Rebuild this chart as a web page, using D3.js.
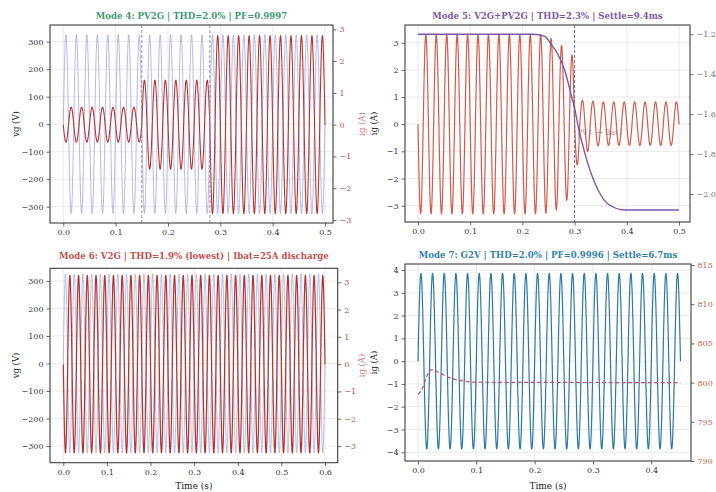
<!DOCTYPE html>
<html>
<head>
<meta charset="utf-8">
<script src="https://cdn.jsdelivr.net/npm/d3@7"></script>
<style>
  body { margin: 0; background: #fff; }
  svg { display: block; font-family: "DejaVu Serif", serif; }
</style>
</head>
<body>
<svg id="chart" width="716" height="492"></svg>
<script>
// grid waveform
var gridFreq = 50;
var vgPeak = 325;

// Mode 4 (PV2G): current steps up at the two dashed markers
var mode4Edges = [0, 0.15, 0.28, 0.5];
var mode4Amps = [0.55, 1.4, 2.8];
var mode4Marks = [0.15, 0.28];

// Mode 5 (V2G+PV2G): extremes of ig for each 20 ms cycle (trough first, then peak)
var mode5Troughs = [-3.3, -3.3, -3.3, -3.3, -3.3, -3.3, -3.3, -3.3, -3.3, -3.3, -3.3, -3.3,
                    -3.28, -3.15, -2.8, -1.5, -1.0, -0.8, -0.78, -0.78, -0.78, -0.78, -0.78, -0.78, -0.78];
var mode5Peaks = [3.3, 3.3, 3.3, 3.3, 3.3, 3.3, 3.3, 3.3, 3.3, 3.3, 3.3, 3.3,
                  3.15, 2.9, 2.55, 0.88, 0.85, 0.82, 0.82, 0.82, 0.82, 0.82, 0.82, 0.82, 0.82];
var mode5Mark = 0.3;
// second-axis trace of Mode 5
var mode5TraceT = [0, 0.22, 0.243, 0.255, 0.268, 0.281, 0.294, 0.3, 0.306, 0.319, 0.332, 0.345, 0.364, 0.396, 0.5];
var mode5TraceV = [-1.2, -1.2, -1.21, -1.25, -1.3, -1.38, -1.51, -1.57, -1.65, -1.79, -1.9, -1.98, -2.05, -2.08, -2.08];

// Mode 6 (V2G)
var mode6End = 0.6;
var mode6Amp = 3.25;

// Mode 7 (G2V)
var mode7End = 0.45;
var mode7Amp = 3.85;
var mode7VdcT = [0, 0.009, 0.015, 0.0235, 0.035, 0.055, 0.083, 0.1, 0.45];
var mode7VdcV = [798.5, 799.5, 800.8, 801.65, 801.3, 800.6, 800.15, 800.05, 800.0];

// tick values
var timeTicks5 = [0, 0.1, 0.2, 0.3, 0.4, 0.5];
var timeTicks6 = [0, 0.1, 0.2, 0.3, 0.4, 0.5, 0.6];
var timeTicks7 = [0, 0.1, 0.2, 0.3, 0.4];
var vgTicks = [-300, -200, -100, 0, 100, 200, 300];
var igTicks3 = [-3, -2, -1, 0, 1, 2, 3];
var igTicks4 = [-4, -3, -2, -1, 0, 1, 2, 3, 4];
var traceTicks = [-2.0, -1.8, -1.6, -1.4, -1.2];
var vdcTicks = [790, 795, 800, 805, 810, 815];

var svg = d3.select("#chart");
var step = 0.0001;

function phase(t) {
    return Math.sin(2 * Math.PI * gridFreq * t);
}

function sampled(end, valueAt) {
    return d3.range(0, end + step / 2, step).map(function (t) {
        return [t, valueAt(t)];
    });
}

var vg5 = sampled(0.5, function (t) { return vgPeak * phase(t); });
var vg6 = sampled(mode6End, function (t) { return vgPeak * phase(t); });

var ig4 = sampled(0.5, function (t) {
    var seg = d3.bisectRight(mode4Edges, t) - 1;
    seg = Math.max(0, Math.min(mode4Amps.length - 1, seg));
    return -mode4Amps[seg] * phase(t);
});

var ig5 = sampled(0.5, function (t) {
    var c = t * gridFreq;
    var k = Math.min(mode5Peaks.length - 1, Math.floor(c));
    var ext = (c - Math.floor(c)) < 0.5 ? mode5Troughs[k] : mode5Peaks[k];
    return ext * Math.abs(phase(t));
});

var ig6 = sampled(mode6End, function (t) { return -mode6Amp * phase(t); });
var ig7 = sampled(mode7End, function (t) { return mode7Amp * phase(t); });

var trace5 = mode5TraceT.map(function (t, i) { return [t, mode5TraceV[i]]; });
var vdc7 = mode7VdcT.map(function (t, i) { return [t, mode7VdcV[i]]; });

var panels = [
    {
        id: "m4", title: "Mode 4: PV2G | THD=2.0% | PF=0.9997", titleColor: "#3f9a72", titleY: 19,
        box: { l: 50, t: 25, r: 333, b: 223 },
        xTicks: timeTicks5, xPx: [63.3, 325],
        left: { ticks: vgTicks, px: [206.7, 41.7], label: "vg (V)", labelX: 16, color: "#222" },
        right: { ticks: igTicks3, px: [220, 29.3], label: "ig (A)", labelX: 362, color: "#c0504d" },
        lines: [
            { data: vg5, axis: "left", color: "#7f86df", width: 0.8, opacity: 0.75 },
            { data: ig4, axis: "right", color: "#b8372d", width: 1.1 }
        ],
        marks: mode4Marks, markColor: "#8c84a8"
    },
    {
        id: "m5", title: "Mode 5: V2G+PV2G | THD=2.3% | Settle=9.4ms", titleColor: "#7d5aa6", titleY: 19,
        box: { l: 405, t: 25, r: 690, b: 222 },
        xTicks: timeTicks5, xPx: [418, 679],
        left: { ticks: igTicks3, px: [205.7, 42.7], label: "ig (A)", labelX: 374, color: "#222" },
        right: { ticks: traceTicks, px: [194, 34.3], color: "#777", format: ".1f" },
        note: { text: "PV\u2191 \u2192 Bat\u2191", t: 0.35, v: -0.4 },
        lines: [
            { data: ig5, axis: "left", color: "#d45a4c", width: 1.2 },
            { data: trace5, axis: "right", color: "#7e55ab", width: 1.4, smooth: true }
        ],
        marks: [mode5Mark], markColor: "#5a6688"
    },
    {
        id: "m6", title: "Mode 6: V2G | THD=1.9% (lowest) | Ibat=25A discharge", titleColor: "#c0504d", titleY: 259,
        box: { l: 50, t: 268.3, r: 337.7, b: 462.7 },
        xTicks: timeTicks6, xPx: [63.3, 325], xLabel: true,
        left: { ticks: vgTicks, px: [446, 281], label: "vg (V)", labelX: 16, color: "#222" },
        right: { ticks: igTicks3, px: [446, 282.3], label: "ig (A)", labelX: 362, color: "#c0504d" },
        lines: [
            { data: vg6, axis: "left", color: "#7f86df", width: 0.8, opacity: 0.7 },
            { data: ig6, axis: "right", color: "#b8372d", width: 1.25 }
        ],
        marks: []
    },
    {
        id: "m7", title: "Mode 7: G2V | THD=2.0% | PF=0.9996 | Settle=6.7ms", titleColor: "#2f7fa8", titleY: 258,
        box: { l: 405, t: 264, r: 691, b: 461 },
        xTicks: timeTicks7, xPx: [418, 651.3], xLabel: true,
        left: { ticks: igTicks4, px: [452.3, 270], label: "ig (A)", labelX: 374, color: "#222" },
        right: { ticks: vdcTicks, px: [461, 265], color: "#c4604d" },
        lines: [
            { data: ig7, axis: "left", color: "#2c78a6", width: 1.2 },
            { data: vdc7, axis: "right", color: "#c0506a", width: 1.2, dash: "4,2.5", smooth: true }
        ],
        marks: []
    }
];

panels.forEach(drawPanel);

function drawPanel(p) {
    var b = p.box;
    var g = svg.append("g").attr("class", p.id);

    var x = d3.scaleLinear()
        .domain([p.xTicks[0], p.xTicks[p.xTicks.length - 1]])
        .range(p.xPx);
    var yL = d3.scaleLinear()
        .domain([p.left.ticks[0], p.left.ticks[p.left.ticks.length - 1]])
        .range(p.left.px);
    var yR = d3.scaleLinear()
        .domain([p.right.ticks[0], p.right.ticks[p.right.ticks.length - 1]])
        .range(p.right.px);

    g.append("clipPath").attr("id", "clip-" + p.id)
        .append("rect")
        .attr("x", b.l).attr("y", b.t)
        .attr("width", b.r - b.l).attr("height", b.b - b.t);

    // grid
    var grid = g.append("g").attr("stroke", "#dcdcdc").attr("stroke-width", 0.6);
    grid.selectAll("line.gx").data(p.xTicks).enter().append("line")
        .attr("x1", function (d) { return x(d); }).attr("x2", function (d) { return x(d); })
        .attr("y1", b.t).attr("y2", b.b);
    grid.selectAll("line.gy").data(p.left.ticks).enter().append("line")
        .attr("y1", function (d) { return yL(d); }).attr("y2", function (d) { return yL(d); })
        .attr("x1", b.l).attr("x2", b.r);

    var plot = g.append("g").attr("clip-path", "url(#clip-" + p.id + ")");

    if (p.note) {
        plot.append("text")
            .attr("x", x(p.note.t)).attr("y", yL(p.note.v))
            .attr("text-anchor", "middle")
            .attr("font-size", 7.5)
            .attr("fill", "#9a9a9a")
            .text(p.note.text);
    }

    p.lines.forEach(function (ln) {
        var y = ln.axis === "left" ? yL : yR;
        var line = d3.line()
            .x(function (d) { return x(d[0]); })
            .y(function (d) { return y(d[1]); });
        if (ln.smooth) line.curve(d3.curveMonotoneX);
        plot.append("path")
            .datum(ln.data)
            .attr("d", line)
            .attr("fill", "none")
            .attr("stroke", ln.color)
            .attr("stroke-width", ln.width)
            .attr("stroke-opacity", ln.opacity || 1)
            .attr("stroke-dasharray", ln.dash || null)
            .attr("stroke-linejoin", "round");
    });

    plot.selectAll("line.mark").data(p.marks).enter().append("line")
        .attr("x1", function (d) { return x(d); }).attr("x2", function (d) { return x(d); })
        .attr("y1", b.t).attr("y2", b.b)
        .attr("stroke", p.markColor)
        .attr("stroke-width", 0.9)
        .attr("stroke-dasharray", "3,2");

    // axes
    var ax = g.append("g").attr("transform", "translate(0," + b.b + ")")
        .call(d3.axisBottom(x).tickValues(p.xTicks).tickSize(3.5).tickPadding(3).tickFormat(d3.format(".1f")));
    var axL = g.append("g").attr("transform", "translate(" + b.l + ",0)")
        .call(d3.axisLeft(yL).tickValues(p.left.ticks).tickSize(3.5).tickPadding(3).tickFormat(d3.format("d")));
    var axR = g.append("g").attr("transform", "translate(" + b.r + ",0)")
        .call(d3.axisRight(yR).tickValues(p.right.ticks).tickSize(3.5).tickPadding(3)
            .tickFormat(d3.format(p.right.format || "d")));

    [ax, axL, axR].forEach(function (a) {
        a.select(".domain").remove();
        a.attr("font-family", null).attr("font-size", 8);
        a.selectAll(".tick line").attr("stroke", "#444").attr("stroke-width", 0.8);
        a.selectAll(".tick text").attr("fill", "#333");
    });
    axR.selectAll(".tick text").attr("fill", p.right.color);

    // frame
    g.append("rect")
        .attr("x", b.l).attr("y", b.t)
        .attr("width", b.r - b.l).attr("height", b.b - b.t)
        .attr("fill", "none")
        .attr("stroke", "#3c3c3c")
        .attr("stroke-width", 1.1);

    // labels
    g.append("text")
        .attr("x", (b.l + b.r) / 2).attr("y", p.titleY)
        .attr("text-anchor", "middle")
        .attr("font-size", 8.6)
        .attr("font-weight", "bold")
        .attr("fill", p.titleColor)
        .text(p.title);

    g.append("text")
        .attr("transform", "translate(" + p.left.labelX + "," + (b.t + b.b) / 2 + ") rotate(-90)")
        .attr("text-anchor", "middle")
        .attr("dominant-baseline", "middle")
        .attr("font-size", 8.5)
        .attr("fill", p.left.color)
        .text(p.left.label);

    // twin-axis labels of the left column spill into the gap, as in the original
    if (p.right.label) {
        g.append("text")
            .attr("transform", "translate(" + p.right.labelX + "," + (b.t + b.b) / 2 + ") rotate(-90)")
            .attr("text-anchor", "middle")
            .attr("dominant-baseline", "middle")
            .attr("font-size", 8.5)
            .attr("fill", p.right.color)
            .attr("fill-opacity", 0.8)
            .text(p.right.label);
    }

    if (p.xLabel) {
        g.append("text")
            .attr("x", (b.l + b.r) / 2).attr("y", 489)
            .attr("text-anchor", "middle")
            .attr("font-size", 9)
            .attr("fill", "#222")
            .text("Time (s)");
    }
}
</script>
</body>
</html>
